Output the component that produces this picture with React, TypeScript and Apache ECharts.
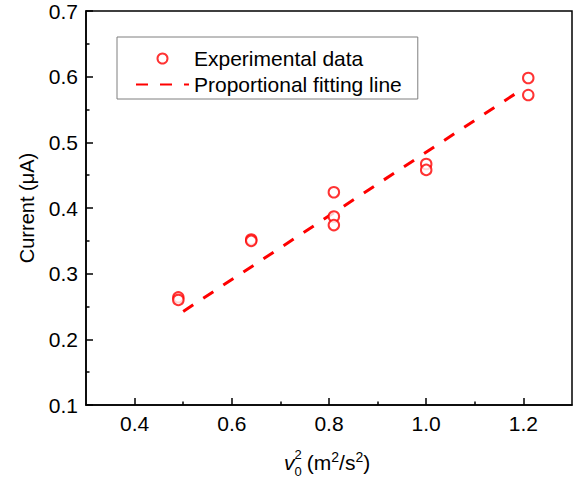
import React, { useEffect, useRef } from "react";
import * as echarts from "echarts";

const FONT = 'Arial, "Liberation Sans", Helvetica, sans-serif';

const speedSquared = [0.49, 0.49, 0.64, 0.64, 0.81, 0.81, 0.81, 1.0, 1.0, 1.21, 1.21];
const currentValues = [0.264, 0.26, 0.352, 0.35, 0.424, 0.387, 0.374, 0.467, 0.458, 0.598, 0.572];
const fitX = [0.5, 1.2];
const fitY = [0.2425, 0.582];
const xMajorTicks = [0.4, 0.6, 0.8, 1.0, 1.2];
const xMinorTicks = [0.5, 0.7, 0.9, 1.1];
const seriesNames = ["Experimental data", "Proportional fitting line"];

export default function App() {
  const ref = useRef<HTMLDivElement>(null);
  useEffect(() => {
    document.body.style.margin = "0";
    const chart = echarts.init(ref.current!, null, { renderer: "svg" });
    const scatterData = speedSquared.map((x, i) => [x, currentValues[i]]);
    const lineData = fitX.map((x, i) => [x, fitY[i]]);
    const axisLine = { show: true, lineStyle: { color: "#000", width: 1.5 } };
    chart.setOption({
      animation: false,
      backgroundColor: "#fff",
      grid: {
        left: 86,
        right: 6,
        top: 11,
        bottom: 76,
        show: true,
        borderColor: "#000",
        borderWidth: 1.5,
      },
      legend: {
        left: 117,
        top: 37,
        orient: "vertical",
        borderColor: "#7f7f7f",
        borderWidth: 1,
        padding: [11, 16, 4, 18],
        itemWidth: 53,
        itemHeight: 10,
        itemGap: 5,
        textStyle: { fontSize: 21, fontFamily: FONT, color: "#000" },
        data: [
          { name: seriesNames[0], icon: "emptyCircle" },
          {
            name: seriesNames[1],
            itemStyle: { color: "rgba(0,0,0,0)", borderColor: "rgba(0,0,0,0)", borderWidth: 0, opacity: 0 },
          },
        ],
      },
      xAxis: [
        {
          type: "value",
          position: "bottom",
          min: 0.3,
          max: 1.3,
          axisLine,
          axisTick: { show: true, inside: true, length: 7, customValues: xMajorTicks, lineStyle: { color: "#000", width: 1.5 } },
          axisLabel: {
            customValues: xMajorTicks,
            formatter: (v: number) => v.toFixed(1),
            fontSize: 21,
            fontFamily: FONT,
            color: "#000",
            margin: 8,
          },
          splitLine: { show: false },
        },
        {
          type: "value",
          position: "bottom",
          min: 0.3,
          max: 1.3,
          axisLine: { show: false },
          axisTick: { show: true, inside: true, length: 3.5, customValues: xMinorTicks, lineStyle: { color: "#000", width: 1.5 } },
          axisLabel: { show: false },
          splitLine: { show: false },
        },
      ],
      yAxis: {
        type: "value",
        min: 0.1,
        max: 0.7,
        interval: 0.1,
        name: "Current (μA)",
        nameLocation: "middle",
        nameGap: 49,
        nameTextStyle: { fontSize: 20, fontFamily: FONT, color: "#000" },
        axisLine,
        axisTick: { show: true, inside: true, length: 7, lineStyle: { color: "#000", width: 1.5 } },
        minorTick: { show: true, splitNumber: 2, length: 3.5, lineStyle: { color: "#000", width: 1.5 } },
        axisLabel: {
          formatter: (v: number) => v.toFixed(1),
          fontSize: 21,
          fontFamily: FONT,
          color: "#000",
          margin: 8,
        },
        splitLine: { show: false },
      },
      graphic: [
        {
          type: "text",
          style: { text: "v", x: 284, y: 462, fontSize: 21, fontStyle: "italic", fontFamily: FONT, fill: "#000", align: "left", verticalAlign: "middle" },
        },
        {
          type: "text",
          style: { text: "2", x: 294.5, y: 454.5, fontSize: 13, fontFamily: FONT, fill: "#000", align: "left", verticalAlign: "middle" },
        },
        {
          type: "text",
          style: { text: "0", x: 294.5, y: 471.5, fontSize: 13, fontFamily: FONT, fill: "#000", align: "left", verticalAlign: "middle" },
        },
        {
          type: "text",
          style: {
            text: " (m{p|2}/s{p|2})",
            x: 301,
            y: 450,
            fontSize: 21,
            lineHeight: 24,
            fontFamily: FONT,
            fill: "#000",
            align: "left",
            verticalAlign: "top",
            rich: {
              p: { fontSize: 14, lineHeight: 14, verticalAlign: "top", fontFamily: FONT, fill: "#000" },
            },
          },
        },
      ],
      series: [
        {
          name: seriesNames[0],
          type: "scatter",
          data: scatterData,
          symbol: "emptyCircle",
          symbolSize: 10.5,
          itemStyle: { color: "#ff0000", borderColor: "#ff0000", borderWidth: 2 },
          z: 3,
        },
        {
          name: seriesNames[1],
          type: "line",
          data: lineData,
          symbol: "none",
          lineStyle: { color: "#ff0000", width: 3, type: [12, 12] },
          itemStyle: { color: "#ff0000" },
          z: 2,
        },
      ],
    });
    return () => chart.dispose();
  }, []);
  return <div ref={ref} style={{ width: 578, height: 481 }} />;
}
